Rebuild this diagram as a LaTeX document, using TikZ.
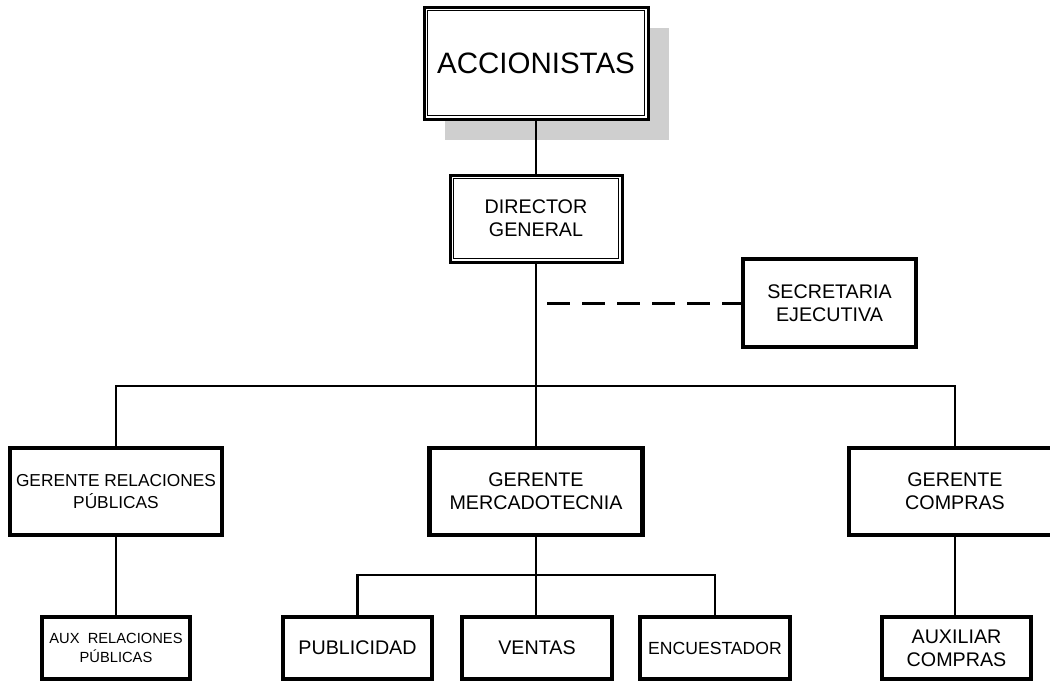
\documentclass[tikz,border=0pt]{standalone}
\usepackage{fontspec}
\setmainfont{Liberation Sans}
\usetikzlibrary{shadows}

\begin{document}
\begin{tikzpicture}[x=1pt,y=-1pt,
  txt/.style={font=\fontsize{19.7}{23}\selectfont},
  box/.style={draw, fill=white, line width=4.5pt, align=center, inner sep=0pt, txt},
  dbl/.style={draw, fill=white, line width=3pt, align=center, inner sep=0pt, txt},
  wire/.style={line width=2.3pt},
  dotwire/.style={line width=3pt, dash pattern=on 23pt off 12pt}
]
\useasboundingbox (0,0) rectangle (1050,681);

% top level with a grey drop shadow
\node[dbl, minimum width=224pt, minimum height=112pt,
      font=\fontsize{29.5}{33}\selectfont,
      drop shadow={shadow xshift=21pt, shadow yshift=-21pt, fill=black!19, opacity=1}]
      (acc) at (536,63) {ACCIONISTAS};
\draw[line width=1.6pt] ([shift={(5pt,-5pt)}]acc.north west) rectangle ([shift={(-5pt,5pt)}]acc.south east);

\node[dbl, minimum width=172pt, minimum height=87pt] (dir) at (536,218.5) {DIRECTOR\\GENERAL};
\draw[line width=1.6pt] ([shift={(5pt,-5pt)}]dir.north west) rectangle ([shift={(-5pt,5pt)}]dir.south east);

\node[box, minimum width=173pt, minimum height=88pt] (sec) at (829.5,303) {SECRETARIA\\EJECUTIVA};

% managers
\node[box, minimum width=212pt, minimum height=87pt, font=\fontsize{17.3}{22}\selectfont]
      (grp) at (116,491.5) {GERENTE RELACIONES\\PÚBLICAS};
\node[box, minimum width=213pt, minimum height=87pt] (gmk) at (536,491.5) {GERENTE\\MERCADOTECNIA};
\node[box, minimum width=212pt, minimum height=87pt] (gco) at (955,491.5) {GERENTE\\COMPRAS};

% staff
\node[box, minimum width=148pt, minimum height=62pt, font=\fontsize{14.7}{19}\selectfont]
      (aux) at (116,648) {AUX\ \ RELACIONES\\PÚBLICAS};
\node[box, minimum width=149pt, minimum height=62pt] (pub) at (357.5,648) {PUBLICIDAD};
\node[box, minimum width=150pt, minimum height=62pt] (ven) at (537,648) {VENTAS};
\node[box, minimum width=150pt, minimum height=62pt, font=\fontsize{17.6}{22}\selectfont]
      (enc) at (715,648) {ENCUESTADOR};
\node[box, minimum width=149pt, minimum height=62pt] (axc) at (956.5,648) {AUXILIAR\\COMPRAS};

% connectors
\coordinate (bus) at (536,386);
\coordinate (sub) at (536,575);
\coordinate (dstart) at (547,303);

\draw[wire] (acc.south) -- (dir.north);
\draw[wire] (dir.south) -- (gmk.north);
\draw[dotwire] (dstart) -- (sec.west);
\draw[wire] (grp.north) -- (grp.north |- bus) -- (gco.north |- bus) -- (gco.north);

\draw[wire] (grp.south) -- (aux.north);
\draw[wire] (gco.south) -- (gco.south |- axc.north);
\draw[wire] (gmk.south) -- (ven.north -| gmk.south);
\draw[wire] (pub.north) -- (pub.north |- sub) -- (enc.north |- sub) -- (enc.north);
\end{tikzpicture}
\end{document}
